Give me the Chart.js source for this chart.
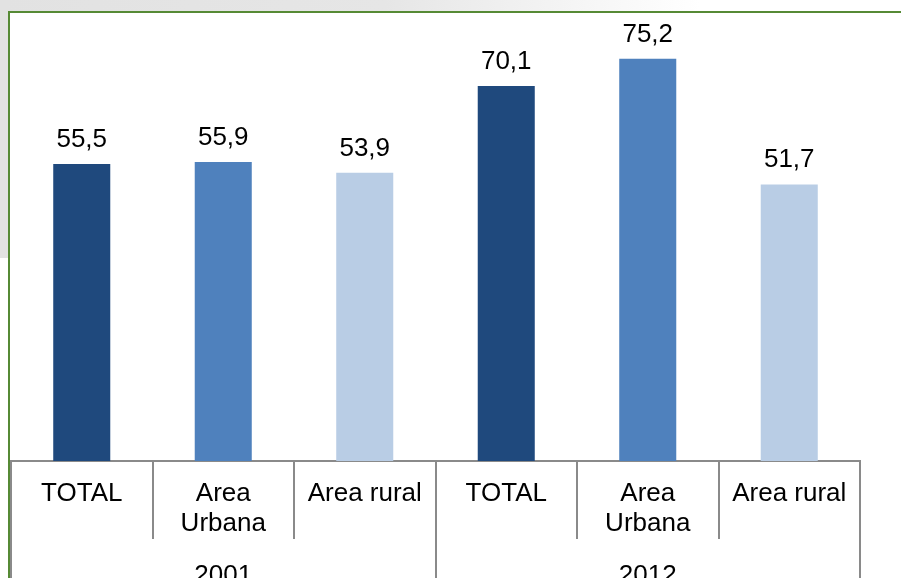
<!DOCTYPE html>
<html>
<head>
<meta charset="utf-8">
<script src="https://cdn.jsdelivr.net/npm/chart.js@4/dist/chart.umd.min.js"></script>
<style>
    body { margin: 0; background: #fff; }
    #wrap { position: relative; width: 901px; height: 578px; overflow: hidden; }
    #bgTop { position: absolute; left: 0; top: 0; width: 700px; height: 11px;
        background: linear-gradient(to right, #e2e2e2 0%, #e6e6e6 55%, #ffffff 100%); }
    #bgLeft { position: absolute; left: 0; top: 0; width: 8px; height: 258px; background: #e2e2e2; }
    #frame { position: absolute; left: 8px; top: 11px; width: 900px; height: 600px;
        border-top: 2px solid #568a35; border-left: 2px solid #568a35; }
    canvas { position: absolute; left: 0; top: 0; }
</style>
</head>
<body>
<div id="wrap">
    <div id="bgTop"></div>
    <div id="bgLeft"></div>
    <div id="frame"></div>
    <canvas id="chart" width="901" height="578"></canvas>
</div>
<script>
const categories = [["TOTAL"], ["Area", "Urbana"], ["Area rural"], ["TOTAL"], ["Area", "Urbana"], ["Area rural"]];
const years = ["2001", "2012"];
const values = [55.5, 55.9, 53.9, 70.1, 75.2, 51.7];
const barColors = ["#1f497d", "#4f81bd", "#b9cde5", "#1f497d", "#4f81bd", "#b9cde5"];

const fontFamily = "'Liberation Sans', Arial, sans-serif";

// value labels above the bars, with a decimal comma
var valueLabels = {
    id: 'valueLabels',
    afterDatasetsDraw: function (chart) {
        var ctx = chart.ctx;
        var meta = chart.getDatasetMeta(0);
        ctx.save();
        ctx.font = "26px " + fontFamily;
        ctx.fillStyle = "#000";
        ctx.textAlign = "center";
        ctx.textBaseline = "alphabetic";
        meta.data.forEach(function (bar, i) {
            ctx.fillText(values[i].toFixed(1).replace('.', ','), bar.x, bar.y - 17);
        });
        ctx.restore();
    }
};

// table lines under the axis and the year row
var axisTable = {
    id: 'axisTable',
    afterDraw: function (chart) {
        var ctx = chart.ctx;
        var x = chart.scales.x;
        var half = (x.getPixelForValue(1) - x.getPixelForValue(0)) / 2;
        var top = x.top;
        ctx.save();
        ctx.strokeStyle = "#8a8a8a";
        ctx.lineWidth = 2;
        for (var i = 0; i <= categories.length; i++) {
            var px = Math.round(x.getPixelForValue(i) - half);
            var outer = (i % 3 === 0);
            ctx.beginPath();
            ctx.moveTo(px, top);
            ctx.lineTo(px, outer ? chart.height : top + 78);
            ctx.stroke();
        }
        ctx.font = "26px " + fontFamily;
        ctx.fillStyle = "#000";
        ctx.textAlign = "center";
        for (var g = 0; g < years.length; g++) {
            var cx = (x.getPixelForValue(g * 3) + x.getPixelForValue(g * 3 + 2)) / 2;
            ctx.fillText(years[g], cx, top + 122);
        }
        ctx.restore();
    }
};

new Chart("chart", {
    type: "bar",
    data: {
        labels: categories,
        datasets: [{
            data: values,
            backgroundColor: barColors,
            barPercentage: 0.403,
            categoryPercentage: 1
        }]
    },
    options: {
        responsive: false,
        animation: false,
        layout: { padding: { left: 11, right: 41, top: 33, bottom: 0 } },
        plugins: {
            legend: { display: false },
            tooltip: { enabled: false }
        },
        scales: {
            y: { display: false, min: 0, max: 80 },
            x: {
                afterFit: function (scale) { scale.height = 117; },
                grid: { display: false, drawTicks: false },
                border: { display: true, color: "#8a8a8a", width: 2 },
                ticks: {
                    color: "#000",
                    padding: 18,
                    maxRotation: 0,
                    autoSkip: false,
                    font: { family: fontFamily, size: 26, lineHeight: 1.15 }
                }
            }
        }
    },
    plugins: [valueLabels, axisTable]
});
</script>
</body>
</html>
